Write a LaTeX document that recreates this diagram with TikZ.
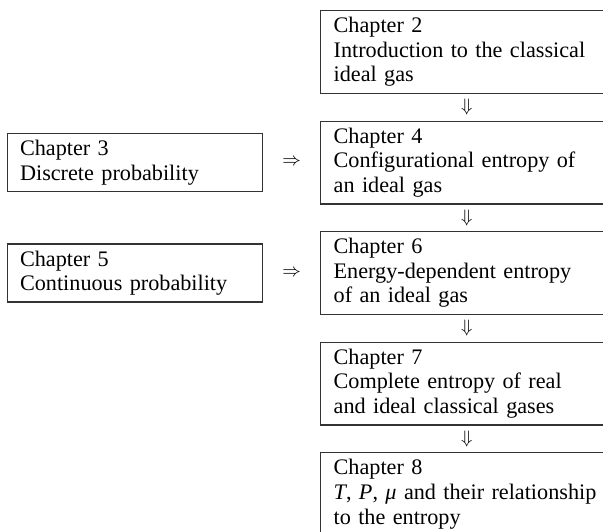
\documentclass[tikz,border=0pt]{standalone}
\usepackage{fontspec}
\setmainfont{Liberation Serif}
\usetikzlibrary{positioning}

\begin{document}
\begin{tikzpicture}[
			x=0.5pt, y=-0.5pt,
			font=\fontsize{11.1}{12.3}\selectfont,
			chapbox/.style={rectangle, draw=black!80, line width=0.65pt, align=left},
			mainbox/.style={chapbox, text width=133pt, inner xsep=6.5pt, minimum height=40.5pt},
			sidebox/.style={chapbox, text width=114.8pt, inner xsep=6.35pt, minimum height=29pt},
			arrowsym/.style={font=\fontsize{9}{9}\selectfont, inner sep=0pt},
			node distance=13.25pt,
			]
			\useasboundingbox (0,0) rectangle (603,531);
			\clip (0,0) rectangle (603,531);
			%Nodes
			\node[mainbox, anchor=north west] (ch2) at (320,10) {Chapter 2\\Introduction to the classical\\ideal gas};
			\node[mainbox] (ch4) [below=of ch2] {Chapter 4\\Configurational entropy of\\an ideal gas};
			\node[mainbox] (ch6) [below=of ch4] {Chapter 6\\Energy-dependent entropy\\of an ideal gas};
			\node[mainbox] (ch7) [below=of ch6] {Chapter 7\\Complete entropy of real\\and ideal classical gases};
			\node[mainbox] (ch8) [below=of ch7] {Chapter 8\\{\itshape T}, {\itshape P}, {\itshape μ} and their relationship\\to the entropy};

			\node[sidebox] (ch3) [left=28.5pt of ch4] {Chapter 3\\Discrete probability};
			\node[sidebox] (ch5) [left=28.5pt of ch6] {Chapter 5\\Continuous probability};

			%Arrows
			\path (ch2) -- (ch4) node[arrowsym, midway] {$\Downarrow$};
			\path (ch4) -- (ch6) node[arrowsym, midway] {$\Downarrow$};
			\path (ch6) -- (ch7) node[arrowsym, midway] {$\Downarrow$};
			\path (ch7) -- (ch8) node[arrowsym, midway] {$\Downarrow$};
			\path (ch3) -- (ch4) node[arrowsym, midway] {$\Rightarrow$};
			\path (ch5) -- (ch6) node[arrowsym, midway] {$\Rightarrow$};
		\end{tikzpicture}
\end{document}
